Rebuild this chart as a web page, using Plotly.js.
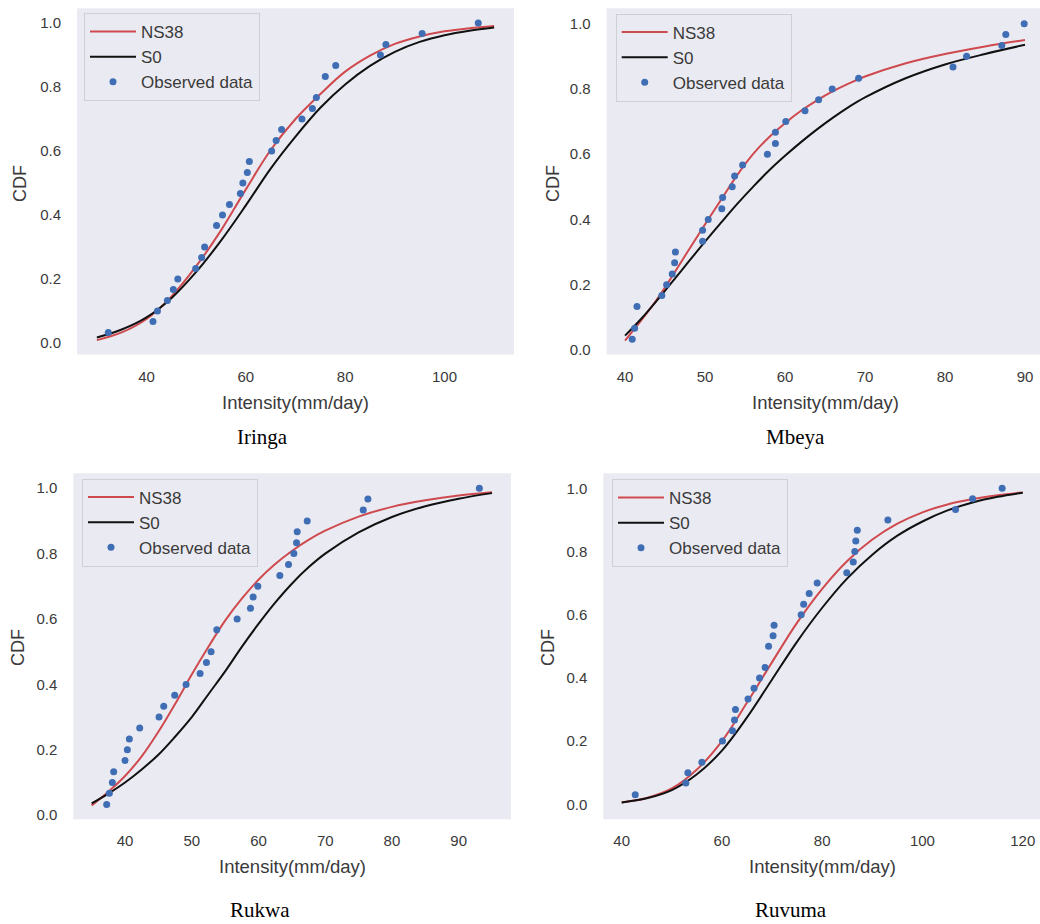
<!DOCTYPE html>
<html>
<head>
<meta charset="utf-8">
<script src="https://cdn.plot.ly/plotly-3.0.1.min.js"></script>
<style>html,body{margin:0;padding:0;background:#fff;}#chart{width:1040px;height:924px;}</style>
</head>
<body>
<div id="chart"></div>
<script>
// ---------- Data ----------
// Iringa
const iringaCurveX = [30, 35, 40, 45, 50, 55, 60, 65, 70, 75, 80, 85, 90, 95, 100, 105, 110];
const iringaNS38   = [0.009, 0.033, 0.075, 0.145, 0.24, 0.352, 0.48, 0.603, 0.70, 0.778, 0.848, 0.898, 0.935, 0.958, 0.974, 0.984, 0.991];
const iringaS0     = [0.017, 0.042, 0.08, 0.14, 0.222, 0.32, 0.43, 0.545, 0.645, 0.735, 0.808, 0.866, 0.91, 0.941, 0.962, 0.976, 0.986];
const iringaObsX = [32.3, 41.3, 42.2, 44.2, 45.4, 46.3, 49.9, 51.1, 51.7, 54.1, 55.3, 56.7, 58.9, 59.4, 60.3, 60.7, 65.2, 66.1, 67.2, 71.3, 73.4, 74.2, 76.0, 78.1, 87.1, 88.2, 95.5, 106.8];
const iringaObsY = [0.033, 0.067, 0.1, 0.133, 0.167, 0.2, 0.233, 0.267, 0.3, 0.367, 0.4, 0.433, 0.467, 0.5, 0.533, 0.567, 0.6, 0.633, 0.667, 0.7, 0.733, 0.767, 0.833, 0.867, 0.9, 0.933, 0.967, 1.0];

// Mbeya
const mbeyaCurveX = [40, 42, 44, 46, 48, 50, 52, 54, 56, 58, 60, 62, 64, 66, 68, 70, 75, 80, 85, 90];
const mbeyaNS38   = [0.029, 0.09, 0.155, 0.23, 0.308, 0.385, 0.46, 0.535, 0.6, 0.652, 0.695, 0.733, 0.765, 0.793, 0.817, 0.838, 0.878, 0.907, 0.93, 0.95];
const mbeyaS0     = [0.044, 0.095, 0.152, 0.212, 0.272, 0.332, 0.39, 0.447, 0.5, 0.55, 0.595, 0.637, 0.676, 0.712, 0.745, 0.774, 0.832, 0.875, 0.907, 0.935];
const mbeyaObsX = [40.9, 41.2, 41.5, 44.6, 45.2, 45.9, 46.2, 46.3, 49.7, 49.7, 50.4, 52.1, 52.2, 53.4, 53.7, 54.7, 57.8, 58.8, 58.8, 60.1, 62.5, 64.2, 65.9, 69.2, 81.0, 82.7, 87.1, 87.6, 89.9];
const mbeyaObsY = [0.033, 0.067, 0.133, 0.167, 0.2, 0.233, 0.267, 0.3, 0.333, 0.367, 0.4, 0.433, 0.467, 0.5, 0.533, 0.567, 0.6, 0.633, 0.667, 0.7, 0.733, 0.767, 0.8, 0.833, 0.867, 0.9, 0.933, 0.967, 1.0];

// Rukwa
const rukwaCurveX = [35, 37.5, 40, 42.5, 45, 47.5, 50, 52.5, 55, 57.5, 60, 62.5, 65, 67.5, 70, 75, 80, 85, 90, 95];
const rukwaNS38   = [0.03, 0.072, 0.12, 0.18, 0.255, 0.34, 0.43, 0.515, 0.595, 0.662, 0.72, 0.768, 0.808, 0.842, 0.87, 0.913, 0.943, 0.963, 0.978, 0.988];
const rukwaS0     = [0.036, 0.066, 0.1, 0.14, 0.185, 0.24, 0.3, 0.37, 0.44, 0.515, 0.585, 0.65, 0.708, 0.758, 0.8, 0.865, 0.912, 0.945, 0.968, 0.985];
const rukwaObsX = [37.25, 37.65, 38.1, 38.3, 40.0, 40.35, 40.65, 42.2, 45.1, 45.8, 47.45, 49.15, 51.25, 52.2, 52.9, 53.75, 56.8, 58.8, 59.2, 59.9, 63.2, 64.5, 65.3, 65.7, 65.8, 67.3, 75.7, 76.4, 93.1];
const rukwaObsY = [0.033, 0.067, 0.1, 0.133, 0.167, 0.2, 0.233, 0.267, 0.3, 0.333, 0.367, 0.4, 0.433, 0.467, 0.5, 0.567, 0.6, 0.633, 0.667, 0.7, 0.733, 0.767, 0.8, 0.833, 0.867, 0.9, 0.933, 0.967, 1.0];

// Ruvuma
const ruvumaCurveX = [40, 45, 50, 55, 60, 65, 70, 75, 80, 85, 90, 95, 100, 105, 110, 115, 120];
const ruvumaNS38   = [0.006, 0.02, 0.05, 0.11, 0.2, 0.322, 0.45, 0.575, 0.682, 0.77, 0.838, 0.888, 0.924, 0.949, 0.966, 0.978, 0.987];
const ruvumaS0     = [0.006, 0.019, 0.045, 0.095, 0.17, 0.275, 0.395, 0.515, 0.622, 0.715, 0.79, 0.85, 0.895, 0.93, 0.955, 0.973, 0.986];
const ruvumaObsX = [42.7, 52.8, 53.2, 56.0, 60.1, 62.1, 62.5, 62.7, 65.2, 66.4, 67.5, 68.6, 69.3, 70.2, 70.4, 75.8, 76.3, 77.4, 79.0, 84.9, 86.2, 86.5, 86.7, 87.0, 93.1, 106.6, 110.0, 115.9];
const ruvumaObsY = [0.03, 0.067, 0.1, 0.133, 0.2, 0.233, 0.267, 0.3, 0.333, 0.367, 0.4, 0.433, 0.5, 0.533, 0.567, 0.6, 0.633, 0.667, 0.7, 0.733, 0.767, 0.8, 0.833, 0.867, 0.9, 0.933, 0.967, 1.0];

const regionNames = ['Iringa', 'Mbeya', 'Rukwa', 'Ruvuma'];
const seriesNames = ['NS38', 'S0', 'Observed data'];
const yTickVals = [0, 0.2, 0.4, 0.6, 0.8, 1.0];
const yTickText = ['0.0', '0.2', '0.4', '0.6', '0.8', '1.0'];
const xTicks = [[40, 60, 80, 100], [40, 50, 60, 70, 80, 90], [40, 50, 60, 70, 80, 90], [40, 60, 80, 100, 120]];

// ---------- Styling ----------
const W = 1040, H = 924;
const RED = '#CF4A4E', BLACK = '#111111', BLUE = '#3F6EB5';
const BG = '#EAEAF2', TXT = '#3a3a3a';
const FONT = 'Liberation Sans, Arial, sans-serif';

const panels = [
  {cx: iringaCurveX, cy: iringaNS38, sy: iringaS0, ox: iringaObsX, oy: iringaObsY,
   px: [77, 514], py: [8.3, 354.5], xr: [26, 114], yr: [-0.036, 1.046]},
  {cx: mbeyaCurveX, cy: mbeyaNS38, sy: mbeyaS0, ox: mbeyaObsX, oy: mbeyaObsY,
   px: [606.7, 1040], py: [8.3, 354.5], xr: [37.71, 91.875], yr: [-0.0138, 1.047]},
  {cx: rukwaCurveX, cy: rukwaNS38, sy: rukwaS0, ox: rukwaObsX, oy: rukwaObsY,
   px: [73.3, 511], py: [473.3, 819.3], xr: [32.25, 97.84], yr: [-0.0125, 1.0456]},
  {cx: ruvumaCurveX, cy: ruvumaNS38, sy: ruvumaS0, ox: ruvumaObsX, oy: ruvumaObsY,
   px: [603.3, 1040], py: [473.3, 819.3], xr: [36.33, 123.45], yr: [-0.0475, 1.0475]}
];
const legendPos = [[84, 13], [615.7, 13.5], [82, 478.5], [612, 479]];
const xTitlePos = [[295.5, 402], [825.5, 402], [292.2, 866.7], [822.5, 866.7]];
const yTitlePos = [[20, 184], [553, 184], [18, 648], [548, 648]];
const captionPos = [[262, 437], [795, 437], [260, 910], [791, 910]];

const traces = [];
const layout = {
  width: W, height: H,
  margin: {l: 0, r: 0, t: 0, b: 0},
  paper_bgcolor: '#ffffff',
  plot_bgcolor: BG,
  font: {family: FONT, color: TXT, size: 15},
  showlegend: true,
  annotations: []
};

panels.forEach((p, i) => {
  const n = i + 1;
  const xa = n === 1 ? 'x' : 'x' + n;
  const ya = n === 1 ? 'y' : 'y' + n;
  const leg = n === 1 ? 'legend' : 'legend' + n;
  traces.push({x: p.cx, y: p.cy, type: 'scatter', mode: 'lines', name: seriesNames[0],
    line: {color: RED, width: 2, shape: 'spline', smoothing: 1}, xaxis: xa, yaxis: ya, legend: leg});
  traces.push({x: p.cx, y: p.sy, type: 'scatter', mode: 'lines', name: seriesNames[1],
    line: {color: BLACK, width: 2, shape: 'spline', smoothing: 1}, xaxis: xa, yaxis: ya, legend: leg});
  traces.push({x: p.ox, y: p.oy, type: 'scatter', mode: 'markers', name: seriesNames[2],
    marker: {color: BLUE, size: 7}, xaxis: xa, yaxis: ya, legend: leg});

  const xk = n === 1 ? 'xaxis' : 'xaxis' + n;
  const yk = n === 1 ? 'yaxis' : 'yaxis' + n;
  layout[xk] = {
    domain: [p.px[0] / W, p.px[1] / W], range: p.xr, anchor: ya,
    showgrid: false, zeroline: false, showline: false, ticks: '',
    tickmode: 'array', tickvals: xTicks[i], ticktext: xTicks[i].map(String),
    ticklabelstandoff: 11, tickfont: {size: 15, color: TXT, family: FONT}
  };
  layout[yk] = {
    domain: [1 - p.py[1] / H, 1 - p.py[0] / H], range: p.yr, anchor: xa,
    showgrid: false, zeroline: false, showline: false, ticks: '',
    tickmode: 'array', tickvals: yTickVals, ticktext: yTickText,
    ticklabelstandoff: 15, tickfont: {size: 15, color: TXT, family: FONT}
  };
  layout[leg] = {
    x: legendPos[i][0] / W, y: 1 - legendPos[i][1] / H, xanchor: 'left', yanchor: 'top',
    xref: 'paper', yref: 'paper',
    bgcolor: BG, bordercolor: '#cfcfd6', borderwidth: 1,
    font: {size: 17, color: TXT, family: FONT}, itemwidth: 46, tracegroupgap: 0
  };
  layout.annotations.push({text: 'Intensity(mm/day)', xref: 'paper', yref: 'paper',
    x: xTitlePos[i][0] / W, y: 1 - xTitlePos[i][1] / H, xanchor: 'center', yanchor: 'middle',
    showarrow: false, font: {size: 18.5, color: TXT, family: FONT}});
  layout.annotations.push({text: 'CDF', xref: 'paper', yref: 'paper', textangle: -90,
    x: yTitlePos[i][0] / W, y: 1 - yTitlePos[i][1] / H, xanchor: 'center', yanchor: 'middle',
    showarrow: false, font: {size: 18, color: TXT, family: FONT}});
  layout.annotations.push({text: regionNames[i], xref: 'paper', yref: 'paper',
    x: captionPos[i][0] / W, y: 1 - captionPos[i][1] / H, xanchor: 'center', yanchor: 'middle',
    showarrow: false, font: {size: 21, color: '#000000', family: 'Liberation Serif, Times New Roman, serif'}});
});

Plotly.newPlot('chart', traces, layout, {staticPlot: true, displayModeBar: false});
</script>
</body>
</html>
